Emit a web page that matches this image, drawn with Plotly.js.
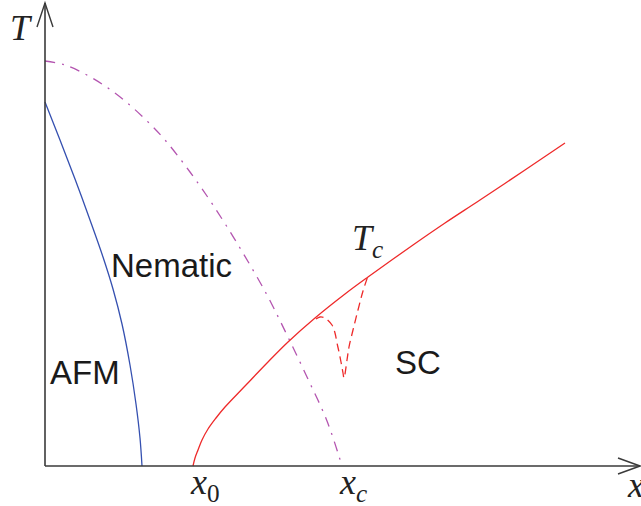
<!DOCTYPE html>
<html>
<head>
<meta charset="utf-8">
<script src="https://cdn.plot.ly/plotly-3.0.1.min.js"></script>
<style>html,body{margin:0;padding:0;background:#fff;}#chart{width:641px;height:506px;}</style>
</head>
<body>
<div id="chart"></div>
<script>
// AFM boundary (blue solid)
const afmX = [0, 15, 30, 45, 58, 68, 77, 85, 91, 95, 97];
const afmT = [364, 326, 287, 246, 209, 177, 142, 101, 62, 28, 0];
// Nematic boundary (magenta dash-dot)
const nemX = [0, 20, 40, 60, 80, 100, 120, 145, 168, 195, 222, 242, 262, 282, 297];
const nemT = [405, 401, 392, 380, 365, 347, 326, 294, 261, 218, 171, 131, 89, 45, 0];
// Superconducting Tc (red solid)
const tcX = [148, 150, 153, 157, 163, 171, 180, 200, 223, 243, 270, 300, 323, 368, 400, 435, 480, 520];
const tcT = [0, 8, 16, 26, 37, 48, 59, 80, 104, 124, 148, 172, 189, 221, 243, 266, 296, 323];
// Tc dip near xc (red dashed)
const dipX = [271, 275, 280, 287, 290, 292, 294, 296, 298, 299, 302, 304, 308, 313, 318, 323];
const dipT = [147, 149, 148, 141, 133, 123, 114, 104, 93, 88, 106, 119, 136, 156, 175, 190];

// Tick labels on the x axis
const tickLabels = ["<i>x</i><sub>0</sub>", "<i>x</i><sub><i>c</i></sub>"];
const tickPos = [160, 308];
// Region labels
const regionNames = ["Nematic", "AFM", "SC"];
const regionX = [126, 40, 373];
const regionT = [201, 94, 104];

const traces = [
  {x: afmX, y: afmT, mode: 'lines', line: {color: '#3550b0', width: 1.3, shape: 'spline', smoothing: 1}, hoverinfo: 'skip'},
  {x: nemX, y: nemT, mode: 'lines', line: {color: '#b455b0', width: 1.3, shape: 'spline', smoothing: 1, dash: '10px,7px,2px,7px'}, hoverinfo: 'skip'},
  {x: tcX, y: tcT, mode: 'lines', line: {color: '#ee2a2a', width: 1.3, shape: 'spline', smoothing: 1}, hoverinfo: 'skip'},
  {x: dipX, y: dipT, mode: 'lines', line: {color: '#ee2a2a', width: 1.3, shape: 'spline', smoothing: 1, dash: '8px,5px'}, hoverinfo: 'skip'}
];

const axisColor = '#3a3a3a';
const shapes = [
  {type: 'line', x0: 0, y0: 0, x1: 0, y1: 463, line: {color: axisColor, width: 1.6}},
  {type: 'line', x0: 0, y0: 0, x1: 595, y1: 0, line: {color: axisColor, width: 1.6}},
  {type: 'path', path: 'M -8,439 L 0,463 L 8,439', line: {color: axisColor, width: 1.4}},
  {type: 'path', path: 'M 573,8 L 595,0 L 573,-8', line: {color: axisColor, width: 1.4}}
];

const mathFont = {family: 'Liberation Serif, DejaVu Serif, serif', size: 36, color: '#222'};
const sansFont = {family: 'Liberation Sans, Arial, sans-serif', size: 33, color: '#1a1a1a'};

const annotations = [];
for (let i = 0; i < tickLabels.length; i++) {
  annotations.push({x: tickPos[i], y: -18, text: tickLabels[i], showarrow: false, font: mathFont, xanchor: 'center', yanchor: 'middle'});
}
annotations.push({x: 580, y: -19, text: '<i>x</i>', showarrow: false, font: mathFont, xanchor: 'left', yanchor: 'middle'});
annotations.push({x: -24, y: 438, text: '<i>T</i>', showarrow: false, font: mathFont, xanchor: 'center', yanchor: 'middle'});
annotations.push({x: 322, y: 226, text: '<i>T</i><sub><i>c</i></sub>', showarrow: false, font: mathFont, xanchor: 'center', yanchor: 'middle'});
for (let i = 0; i < regionNames.length; i++) {
  annotations.push({x: regionX[i], y: regionT[i], text: regionNames[i], showarrow: false, font: sansFont, xanchor: 'center', yanchor: 'middle'});
}

const layout = {
  width: 641, height: 506,
  margin: {l: 0, r: 0, t: 0, b: 0, pad: 0},
  paper_bgcolor: '#fff', plot_bgcolor: '#fff',
  showlegend: false,
  xaxis: {range: [-45, 596], visible: false, fixedrange: true},
  yaxis: {range: [-40, 466], visible: false, fixedrange: true},
  shapes: shapes,
  annotations: annotations
};

Plotly.newPlot('chart', traces, layout, {displayModeBar: false, staticPlot: true});
</script>
</body>
</html>
